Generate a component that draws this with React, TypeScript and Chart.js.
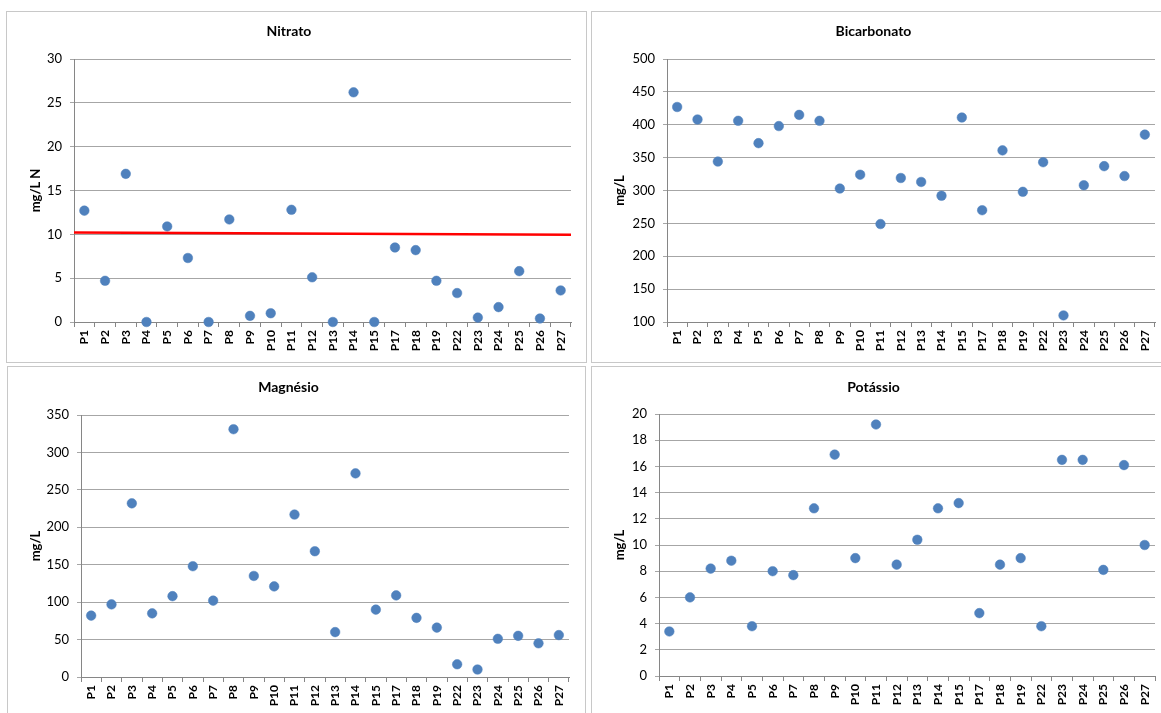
import React, { useEffect, useRef } from "react";
import { Chart, registerables } from "chart.js";

Chart.register(...registerables);

const categories = [
  "P1", "P2", "P3", "P4", "P5", "P6", "P7", "P8", "P9", "P10", "P11", "P12",
  "P13", "P14", "P15", "P17", "P18", "P19", "P22", "P23", "P24", "P25", "P26", "P27",
];

const nitrato = [12.7, 4.7, 16.9, 0, 10.9, 7.3, 0, 11.7, 0.7, 1.0, 12.8, 5.1, 0, 26.2, 0, 8.5, 8.2, 4.7, 3.3, 0.5, 1.7, 5.8, 0.4, 3.6];
const bicarbonato = [427, 408, 344, 406, 372, 398, 415, 406, 303, 324, 249, 319, 313, 292, 411, 270, 361, 298, 343, 110, 308, 337, 322, 385];
const magnesio = [82, 97, 232, 85, 108, 148, 102, 331, 135, 121, 217, 168, 60, 272, 90, 109, 79, 66, 17, 10, 51, 55, 45, 56];
const potassio = [3.4, 6.0, 8.2, 8.8, 3.8, 8.0, 7.7, 12.8, 16.9, 9.0, 19.2, 8.5, 10.4, 12.8, 13.2, 4.8, 8.5, 9.0, 3.8, 16.5, 16.5, 8.1, 16.1, 10.0];

// reference (limit) line on the Nitrato panel: value at left and right edge of plot
const nitratoLimit = [10.2, 9.95];

const nitratoAxis = [0, 30, 5];
const bicarbonatoAxis = [100, 500, 50];
const magnesioAxis = [0, 350, 50];
const potassioAxis = [0, 20, 2];

const FONT = "Lato, 'Open Sans', sans-serif";
const POINT = "#4F81BD";
const GRID = "#a6a6a6";
const AXIS = "#868686";

const limitPlugin = {
  id: "limitLine",
  afterDatasetsDraw(chart: any, _args: any, opts: any) {
    if (!opts || opts.values == null) return;
    const { ctx, chartArea, scales } = chart;
    const y = scales.y;
    ctx.save();
    ctx.strokeStyle = "#FF0000";
    ctx.lineWidth = 2.5;
    ctx.beginPath();
    ctx.moveTo(chartArea.left, y.getPixelForValue(opts.values[0]));
    ctx.lineTo(chartArea.right, y.getPixelForValue(opts.values[1]));
    ctx.stroke();
    ctx.restore();
  },
};

type PanelProps = {
  left: number;
  top: number;
  width: number;
  height: number;
  title: string;
  yTitle: string;
  values: number[];
  axis: number[];
  yAxisWidth: number;
  padRight: number;
  plotTop: number;
  plotBottom: number;
  titleCenter: number;
  yTitleCenter: number;
  limit?: number[];
};

function Panel(p: PanelProps) {
  const ref = useRef<HTMLCanvasElement | null>(null);
  const cw = p.width - 2;
  const ch = p.height - 2;
  useEffect(() => {
    if (!ref.current) return;
    const titleFont = 14;
    const titleLH = titleFont * 1.2;
    const tPadTop = p.titleCenter - titleLH / 2;
    const tPadBottom = p.plotTop - tPadTop - titleLH;
    const yTitleLH = 13 * 1.2;
    const chart = new Chart(ref.current, {
      type: "line",
      data: {
        labels: categories,
        datasets: [
          {
            data: p.values,
            showLine: false,
            pointRadius: 4.8,
            pointHoverRadius: 4.8,
            pointBackgroundColor: POINT,
            pointBorderColor: POINT,
            pointBorderWidth: 0.5,
            borderColor: POINT,
            backgroundColor: POINT,
            clip: false as any,
          },
        ],
      },
      options: {
        animation: false,
        responsive: false,
        devicePixelRatio: 1,
        events: [],
        layout: { padding: { left: 0, right: p.padRight, top: 0, bottom: 0 } },
        plugins: {
          legend: { display: false },
          tooltip: { enabled: false },
          title: {
            display: true,
            text: p.title,
            color: "#000",
            font: { family: FONT, size: titleFont, weight: "bold" },
            padding: { top: tPadTop, bottom: tPadBottom },
          },
          limitLine: p.limit ? { values: p.limit } : {},
        } as any,
        scales: {
          x: {
            offset: true,
            grid: {
              offset: true,
              drawOnChartArea: false,
              drawTicks: true,
              tickLength: 5,
              color: AXIS,
            },
            border: { display: true, color: AXIS, width: 1 },
            ticks: {
              autoSkip: false,
              maxRotation: 90,
              minRotation: 90,
              padding: 3,
              color: "#000",
              font: { family: FONT, size: 12, weight: "bold" },
            },
            afterFit: (s: any) => {
              s.height = ch - p.plotBottom;
            },
          },
          y: {
            min: p.axis[0],
            max: p.axis[1],
            ticks: {
              stepSize: p.axis[2],
              padding: 8,
              color: "#000",
              font: { family: FONT, size: 13 },
            },
            grid: { color: GRID, tickLength: 4, lineWidth: 1 },
            border: { display: true, color: AXIS, width: 1 },
            title: {
              display: true,
              text: p.yTitle,
              color: "#000",
              font: { family: FONT, size: 13, weight: "bold" },
              padding: { top: p.yTitleCenter - yTitleLH / 2, bottom: 0 },
            },
            afterFit: (s: any) => {
              s.width = p.yAxisWidth;
            },
          },
        },
      },
      plugins: [limitPlugin],
    } as any);
    return () => chart.destroy();
  }, []);
  return (
    <div
      style={{
        position: "absolute",
        left: p.left,
        top: p.top,
        width: p.width - 2,
        height: p.height - 2,
        border: "1px solid #c8c8c8",
        background: "#fff",
      }}
    >
      <canvas ref={ref} width={cw} height={ch} style={{ display: "block", width: cw, height: ch }} />
    </div>
  );
}

export default function App() {
  return (
    <div
      style={{
        position: "absolute",
        left: 0,
        top: 0,
        width: 1161,
        height: 713,
        overflow: "hidden",
        background: "#fff",
      }}
    >
      <Panel
        left={6}
        top={11}
        width={581}
        height={352}
        title="Nitrato"
        yTitle="mg/L N"
        values={nitrato}
        axis={nitratoAxis}
        yAxisWidth={67}
        padRight={15}
        plotTop={47}
        plotBottom={310}
        titleCenter={19}
        yTitleCenter={29}
        limit={nitratoLimit}
      />
      <Panel
        left={591}
        top={11}
        width={580}
        height={352}
        title="Bicarbonato"
        yTitle="mg/L"
        values={bicarbonato}
        axis={bicarbonatoAxis}
        yAxisWidth={75}
        padRight={15}
        plotTop={47}
        plotBottom={310}
        titleCenter={19}
        yTitleCenter={27.5}
      />
      <Panel
        left={7}
        top={366}
        width={579}
        height={360}
        title="Magnésio"
        yTitle="mg/L"
        values={magnesio}
        axis={magnesioAxis}
        yAxisWidth={73}
        padRight={16}
        plotTop={48}
        plotBottom={310}
        titleCenter={20.5}
        yTitleCenter={27.5}
      />
      <Panel
        left={591}
        top={366}
        width={580}
        height={360}
        title="Potássio"
        yTitle="mg/L"
        values={potassio}
        axis={potassioAxis}
        yAxisWidth={67}
        padRight={15}
        plotTop={47}
        plotBottom={309}
        titleCenter={20.5}
        yTitleCenter={28}
      />
    </div>
  );
}
